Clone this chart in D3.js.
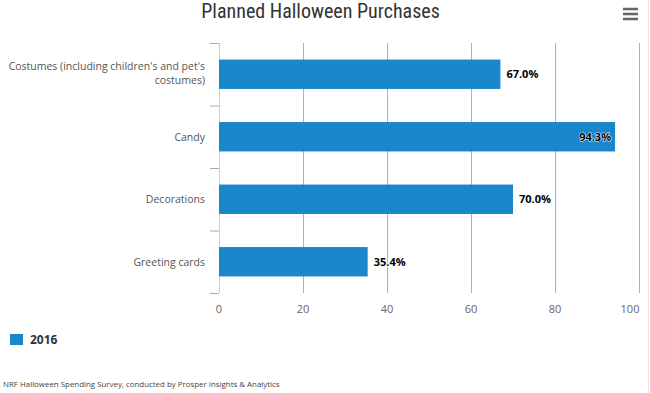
<!DOCTYPE html>
<html><head><meta charset="utf-8">
<script src="https://cdn.jsdelivr.net/npm/d3@7"></script>
<style>body{margin:0;background:#fff;}svg{display:block;font-family:"Open Sans","DejaVu Sans",sans-serif;}</style>
</head><body>
<svg id="c" width="650" height="393"></svg>
<script>
const categories = ["Costumes (including children's and pet's costumes)", "Candy", "Decorations", "Greeting cards"];
const values2016 = [67.0, 94.3, 70.0, 35.4];
const xTicks = [0, 20, 40, 60, 80, 100];
const seriesName = "2016";
const title = "Planned Halloween Purchases";
const credit = "NRF Halloween Spending Survey, conducted by Prosper Insights & Analytics";

const svg = d3.select("#c");
const m = {l:219, r:639, t:43, b:293};
const x = d3.scaleLinear().domain([0,100]).range([m.l, m.r]);
const y = d3.scaleBand().domain(categories).range([m.t, m.b]).paddingInner(0.53).paddingOuter(0.265);
const color = "#1a86cb";

svg.append("rect").attr("width",650).attr("height",393).attr("fill","#fff");
svg.append("line").attr("x1",648.5).attr("x2",648.5).attr("y1",0).attr("y2",393).attr("stroke","#e6e6e6");

// title
svg.append("text").attr("x",320.5).attr("y",18).attr("text-anchor","middle")
  .attr("font-family","'Liberation Sans Narrow','Roboto Condensed','Open Sans',sans-serif")
  .attr("font-size",20).attr("fill","#333").text(title);
// menu icon
[9,14,19].forEach(v=>svg.append("line").attr("x1",623).attr("x2",638).attr("y1",v).attr("y2",v).attr("stroke","#666").attr("stroke-width",2.5));

// grid
svg.append("g").selectAll("line").data(xTicks.filter(d=>d>0)).join("line")
  .attr("x1",d=>x(d)+0.5).attr("x2",d=>x(d)+0.5).attr("y1",m.t).attr("y2",m.b)
  .attr("stroke","#b0b0b0").attr("stroke-width",1);

// y axis
const ya = svg.append("g").attr("transform",`translate(${m.l},0)`);
ya.append("line").attr("x1",0.5).attr("x2",0.5).attr("y1",m.t).attr("y2",m.b).attr("stroke","#c0d0e0");
const tickYs = d3.range(categories.length+1).map(i=>m.t+i*(m.b-m.t)/categories.length);
ya.selectAll("line.t").data(tickYs).join("line").attr("class","t")
  .attr("x1",-9).attr("x2",0).attr("y1",d=>d+0.5).attr("y2",d=>d+0.5).attr("stroke","#aaa");

// category labels
const catG = svg.append("g");
categories.forEach(c=>{
  const cy = y(c)+y.bandwidth()/2;
  const t = catG.append("text").attr("text-anchor","end").attr("font-size",10.5).attr("fill","#555");
  if (c.length>30){
    const parts = ["Costumes (including children's and pet's","costumes)"];
    parts.forEach((p,i)=>t.append("tspan").attr("x",205).attr("y",cy-4+i*14).text(p));
  } else {
    t.attr("x",205).attr("y",cy+4).text(c);
  }
});

// bars
svg.append("g").selectAll("rect").data(values2016).join("rect")
  .attr("x",x(0)).attr("y",(d,i)=>y(categories[i]))
  .attr("width",d=>x(d)-x(0)).attr("height",y.bandwidth()).attr("fill",color);

// data labels
svg.append("g").selectAll("text").data(values2016).join("text")
  .attr("x",d=> d>90 ? x(d)-4 : x(d)+6)
  .attr("text-anchor",d=> d>90 ? "end":"start")
  .attr("y",(d,i)=>y(categories[i])+y.bandwidth()/2+4)
  .attr("font-size",11).attr("font-weight","bold").attr("fill","#000")
  .attr("stroke","#fff").attr("stroke-width",d=>d>90?1:2).attr("paint-order","stroke")
  .text(d=>d.toFixed(1)+"%");

// x axis
const xa = svg.append("g");
xa.selectAll("text").data(xTicks).join("text")
  .attr("x",d=> d===100 ? x(d)-9 : x(d)).attr("y",m.b+20).attr("text-anchor","middle")
  .attr("font-size",11).attr("fill","#666").text(d=>d);

// legend
svg.append("rect").attr("x",10).attr("y",334).attr("width",13).attr("height",11).attr("fill",color);
svg.append("text").attr("x",30).attr("y",344).attr("font-size",12).attr("font-weight","bold").attr("fill","#333").text(seriesName);

// credits
svg.append("text").attr("x",3).attr("y",387).attr("font-size",7.9).attr("fill","#444").text(credit);
</script>
</body></html>
